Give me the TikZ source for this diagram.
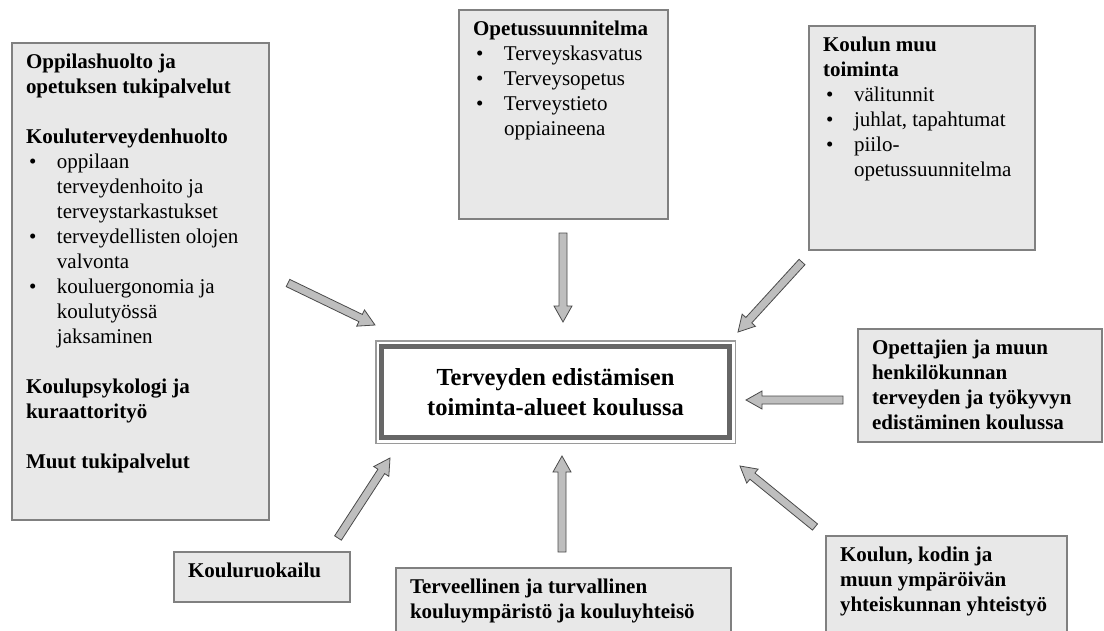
\documentclass[tikz,border=0pt]{standalone}
\usepackage{fontspec}
\setmainfont{Liberation Serif}
\usetikzlibrary{calc}
\definecolor{boxfill}{HTML}{E8E8E8}
\definecolor{boxline}{HTML}{808080}
\definecolor{arrowfill}{HTML}{BEBEBE}
\definecolor{arrowline}{HTML}{4A4A4A}
\definecolor{framedark}{HTML}{666666}
\definecolor{framelight}{HTML}{9A9A9A}
\newcommand{\itm}{\makebox[31pt][l]{\hspace{3pt}\textbullet}}
\newcommand{\cont}{\hspace*{31pt}}
\newcommand{\boxtext}[3]
{   \parbox[c][#2pt][t]{#1pt}{\raggedright\strut #3}
}
\newcommand{\fatarrow}[2]
{   \coordinate (hb) at ($(#2)!16pt!(#1)$);
    \filldraw[fatarrow] ($(#1)!4pt!90:(#2)$) -- ($(hb)!4pt!90:(#2)$) -- ($(hb)!9pt!90:(#2)$) -- (#2)
      -- ($(hb)!9pt!-90:(#2)$) -- ($(hb)!4pt!-90:(#2)$) -- ($(#1)!4pt!-90:(#2)$) -- cycle;
}
\tikzset{
  infobox/.style={draw=boxline, line width=2pt, fill=boxfill, anchor=north west,
    inner xsep=14pt, inner ysep=7.5pt, font=\fontsize{21}{25}\selectfont},
  mainbox/.style={draw=framedark, line width=4.5pt, fill=white, minimum width=348pt,
    minimum height=91pt, align=center, font=\fontsize{24.5}{30}\selectfont\bfseries},
  fatarrow/.style={fill=arrowfill, draw=arrowline, line width=0.8pt, line join=miter}
}
\begin{document}
\begin{tikzpicture}[x=1pt,y=-1pt]
  \useasboundingbox (0,0) rectangle (1104,630);
  \clip (0,0) rectangle (1104,630);

  % centre
  \node[mainbox] (main) at (555.5,392) {Terveyden edistämisen\\toiminta-alueet koulussa};
  \draw[framelight, line width=1.5pt] ($(main.north west)+(-3.5,-3.5)$) rectangle ($(main.south east)+(3.5,3.5)$);

  % boxes round it
  \node[infobox] (oppil) at (11,42) {\boxtext{229}{462}{%
    \textbf{Oppilashuolto ja}\\ \textbf{opetuksen tukipalvelut}\\[25pt]
    \textbf{Kouluterveydenhuolto}\\
    \itm oppilaan\\ \cont terveydenhoito ja\\ \cont terveystarkastukset\\
    \itm terveydellisten olojen\\ \cont valvonta\\
    \itm kouluergonomia ja\\ \cont koulutyössä\\ \cont jaksaminen\\[25pt]
    \textbf{Koulupsykologi ja}\\ \textbf{kuraattorityö}\\[25pt]
    \textbf{Muut tukipalvelut}}};
  \node[infobox] (ops) at (458,9) {\boxtext{181}{194}{%
    \textbf{Opetussuunnitelma}\\ \itm Terveyskasvatus\\ \itm Terveysopetus\\
    \itm Terveystieto\\ \cont oppiaineena}};
  \node[infobox] (muu) at (808,25) {\boxtext{198}{209}{%
    \textbf{Koulun muu}\\ \textbf{toiminta}\\ \itm välitunnit\\ \itm juhlat, tapahtumat\\
    \itm piilo-\\ \cont opetussuunnitelma}};
  \node[infobox] (opett) at (857,328) {\boxtext{216}{98}{\bfseries
    Opettajien ja muun\\ henkilökunnan\\ terveyden ja työkyvyn\\ edistäminen koulussa}};
  \node[infobox] (yhteis) at (825,535) {\boxtext{213}{90}{\bfseries
    Koulun, kodin ja\\ muun ympäröivän\\ yhteiskunnan yhteistyö}};
  \node[infobox] (ymp) at (395,567) {\boxtext{307}{58}{\bfseries
    Terveellinen ja turvallinen\\ kouluympäristö ja kouluyhteisö}};
  \node[infobox] (ruoka) at (173,551) {\boxtext{148}{35}{\bfseries Kouluruokailu}};

  % arrows
  \coordinate (oppil-a) at (288,283);  \coordinate (oppil-b) at (375,325);
  \coordinate (ops-a) at (563,233);    \coordinate (ops-b) at (563,322);
  \coordinate (muu-a) at (802,262);    \coordinate (muu-b) at (738,332);
  \coordinate (opett-a) at (843,400);  \coordinate (opett-b) at (746,400);
  \coordinate (ruoka-a) at (338,538);  \coordinate (ruoka-b) at (390,458);
  \coordinate (ymp-a) at (562,552);    \coordinate (ymp-b) at (562,456);
  \coordinate (yhteis-a) at (815,527); \coordinate (yhteis-b) at (740,466);
  \fatarrow{oppil-a}{oppil-b}
  \fatarrow{ops-a}{ops-b}
  \fatarrow{muu-a}{muu-b}
  \fatarrow{opett-a}{opett-b}
  \fatarrow{ruoka-a}{ruoka-b}
  \fatarrow{ymp-a}{ymp-b}
  \fatarrow{yhteis-a}{yhteis-b}

\end{tikzpicture}
\end{document}
